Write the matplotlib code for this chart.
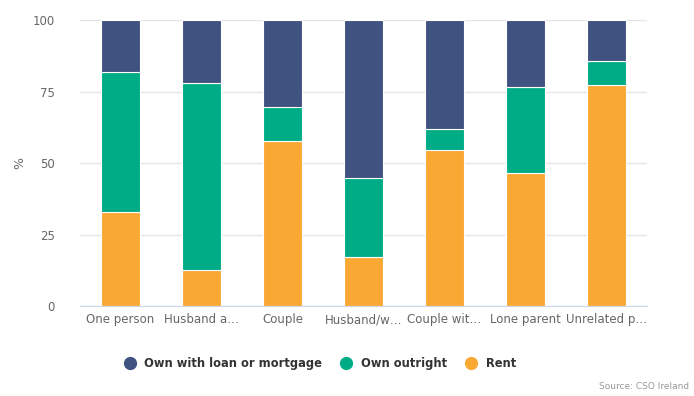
import numpy as np
import matplotlib
matplotlib.use("Agg")
import matplotlib.pyplot as plt
from matplotlib.lines import Line2D

# --- data ---
categories = ["One person", "Husband a\u2026", "Couple", "Husband/w\u2026",
              "Couple wit\u2026", "Lone parent", "Unrelated p\u2026"]
rent = [33.0, 12.7, 57.9, 17.3, 54.5, 46.6, 77.5]
own_outright = [48.8, 65.3, 11.7, 27.5, 7.6, 30.1, 8.3]
own_mortgage = [18.2, 22.0, 30.4, 55.2, 37.9, 23.3, 14.2]

series_names = ["Own with loan or mortgage", "Own outright", "Rent"]
colors = {"Own with loan or mortgage": "#3f5280",
          "Own outright": "#00ac86",
          "Rent": "#f9a834"}

fig = plt.figure(figsize=(6.94, 3.96), dpi=100)
ax = fig.add_axes([0.1153, 0.227, 0.817, 0.722])

x = np.arange(len(categories))
w = 0.47
bottom = np.zeros(len(categories))
for name, vals in [("Rent", rent), ("Own outright", own_outright),
                   ("Own with loan or mortgage", own_mortgage)]:
    ax.bar(x, vals, w, bottom=bottom, color=colors[name],
           edgecolor="white", linewidth=0.8, zorder=3)
    bottom += np.array(vals)

ax.set_xlim(-0.5, len(categories) - 0.5)
ax.set_ylim(0, 100)
ax.set_yticks([0, 25, 50, 75, 100])
ax.set_xticks(x)
ax.set_xticklabels(categories)
ax.tick_params(axis="both", length=0, labelsize=8.5, colors="#666666")
ax.tick_params(axis="y", pad=18)
ax.tick_params(axis="x", pad=5)
ax.grid(axis="y", color="#e6e6e6", linewidth=1, zorder=0)
for s in ["top", "right", "left"]:
    ax.spines[s].set_visible(False)
ax.spines["bottom"].set_color("#ccd6eb")
ax.spines["bottom"].set_zorder(4)
ax.set_ylabel("%", fontsize=9, color="#666666", labelpad=5)

handles = [Line2D([0], [0], marker="o", linestyle="", markersize=8.5,
                  markerfacecolor=colors[n], markeredgecolor=colors[n])
           for n in series_names]
leg = fig.legend(handles, series_names, loc="center", bbox_to_anchor=(0.46, 0.081),
                 ncol=3, frameon=False, handletextpad=0.66, columnspacing=1.5,
                 handlelength=1.2, prop={"size": 8.3, "weight": "bold"})
for t in leg.get_texts():
    t.set_color("#333333")

fig.text(0.993, 0.012, "Source: CSO Ireland", ha="right", va="bottom",
         fontsize=6.5, color="#999999")

fig.savefig("out.png", dpi=100)
